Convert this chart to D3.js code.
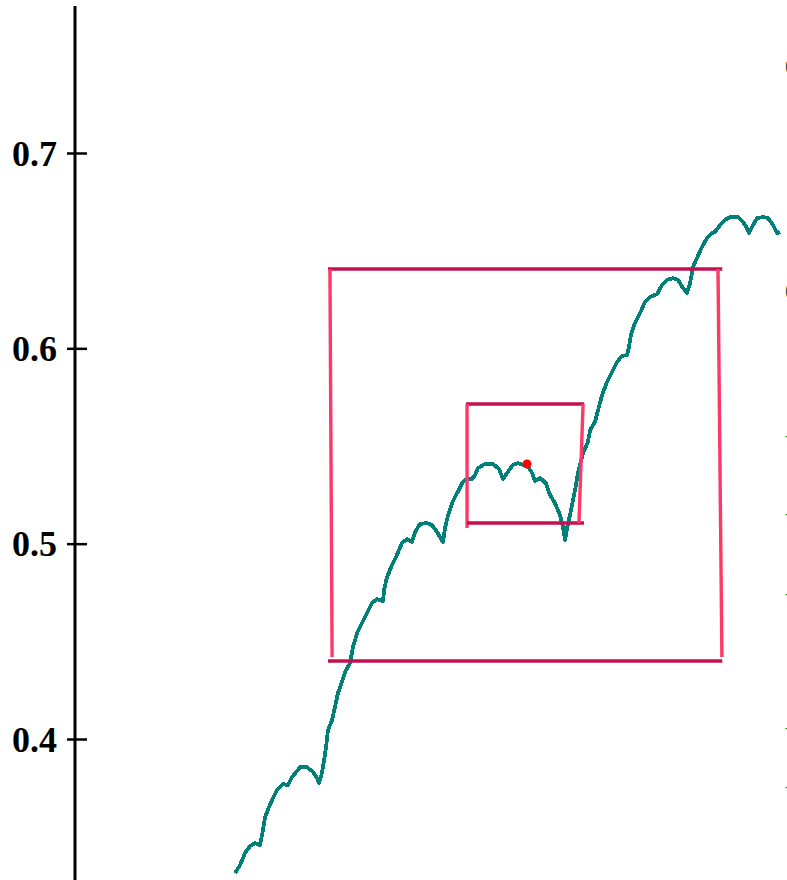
<!DOCTYPE html>
<html>
<head>
<meta charset="utf-8">
<script src="https://cdn.jsdelivr.net/npm/d3@7"></script>
<style>
  html, body { margin: 0; padding: 0; background: #fff; overflow: hidden; }
  svg { display: block; }
</style>
</head>
<body>
<div id="chart"></div>
<script>
// curve samples (x, y)
const curveX = [
  0.3505, 0.3531, 0.3556, 0.3582, 0.3607, 0.3633, 0.3648, 0.3659, 0.3679, 0.3700,
  0.3720, 0.3751, 0.3776, 0.3797, 0.3838, 0.3874, 0.3904, 0.3925, 0.3935, 0.3950,
  0.3961, 0.3971, 0.3981, 0.4002, 0.4017, 0.4032, 0.4053, 0.4068, 0.4094, 0.4109,
  0.4130, 0.4155, 0.4181, 0.4206, 0.4232, 0.4263, 0.4268, 0.4283, 0.4309, 0.4334,
  0.4360, 0.4386, 0.4411, 0.4427, 0.4452, 0.4488, 0.4514, 0.4539, 0.4570, 0.4580,
  0.4596, 0.4616, 0.4642, 0.4672, 0.4693, 0.4718, 0.4734, 0.4749, 0.4785, 0.4826,
  0.4857, 0.4877, 0.4898, 0.4928, 0.4954, 0.4980, 0.5000, 0.5026, 0.5041, 0.5067,
  0.5097, 0.5118, 0.5143, 0.5169, 0.5184, 0.5195, 0.5205, 0.5220, 0.5246, 0.5261,
  0.5287, 0.5312, 0.5323, 0.5348, 0.5364, 0.5384, 0.5410, 0.5435, 0.5461, 0.5486,
  0.5512, 0.5522, 0.5532, 0.5553, 0.5579, 0.5604, 0.5630, 0.5666, 0.5691, 0.5717,
  0.5748, 0.5773, 0.5799, 0.5819, 0.5835, 0.5850, 0.5870, 0.5896, 0.5922, 0.5947,
  0.5963, 0.5988, 0.6014, 0.6039, 0.6080, 0.6106, 0.6126, 0.6137, 0.6152, 0.6178,
  0.6208, 0.6234, 0.6260, 0.6280, 0.6295
];
const curveY = [
  0.3314, 0.3355, 0.3416, 0.3452, 0.3467, 0.3457, 0.3534, 0.3600, 0.3652, 0.3698,
  0.3739, 0.3769, 0.3764, 0.3805, 0.3856, 0.3856, 0.3831, 0.3800, 0.3774, 0.3826,
  0.3892, 0.3959, 0.4046, 0.4097, 0.4164, 0.4235, 0.4292, 0.4343, 0.4389, 0.4471,
  0.4542, 0.4594, 0.4645, 0.4696, 0.4716, 0.4706, 0.4763, 0.4829, 0.4891, 0.4942,
  0.5003, 0.5024, 0.5008, 0.5060, 0.5100, 0.5106, 0.5095, 0.5060, 0.5008, 0.5080,
  0.5147, 0.5208, 0.5259, 0.5316, 0.5331, 0.5331, 0.5351, 0.5387, 0.5408, 0.5408,
  0.5382, 0.5331, 0.5362, 0.5403, 0.5413, 0.5403, 0.5403, 0.5362, 0.5321, 0.5336,
  0.5310, 0.5249, 0.5208, 0.5147, 0.5085, 0.5019, 0.5080, 0.5147, 0.5275, 0.5362,
  0.5464, 0.5520, 0.5582, 0.5623, 0.5684, 0.5761, 0.5828, 0.5879, 0.5930, 0.5961,
  0.5966, 0.6007, 0.6068, 0.6130, 0.6181, 0.6237, 0.6263, 0.6278, 0.6324, 0.6350,
  0.6360, 0.6350, 0.6309, 0.6283, 0.6334, 0.6416, 0.6462, 0.6519, 0.6565, 0.6590,
  0.6596, 0.6631, 0.6657, 0.6672, 0.6672, 0.6647, 0.6616, 0.6590, 0.6621, 0.6667,
  0.6672, 0.6667, 0.6631, 0.6590, 0.6596
];

const point = { x: 0.5, y: 0.5408 };

// box edges: [x1, y1, x2, y2, kind]
const boxEdges = [
  [0.3981, 0.6406, 0.6000, 0.6406, "h"],
  [0.3991, 0.6406, 0.4002, 0.4420, "v"],
  [0.3981, 0.4399, 0.6000, 0.4399, "h"],
  [0.5978, 0.6406, 0.5998, 0.4420, "v"],
  [0.4688, 0.5715, 0.5292, 0.5715, "h"],
  [0.4693, 0.5715, 0.4693, 0.5080, "v"],
  [0.4693, 0.5106, 0.5292, 0.5106, "h"],
  [0.5287, 0.5715, 0.5266, 0.5106, "v"]
];

const yTicks = [0.4, 0.5, 0.6, 0.7];

// labels of the neighbouring panel, cut by the right edge
const sideGray = [0.7450, 0.6299];
const sideGreen = [0.5556, 0.5157, 0.4747, 0.4061, 0.3759];

const width = 787, height = 880;

const svg = d3.select("#chart").append("svg")
  .attr("width", width)
  .attr("height", height);

const y = d3.scaleLinear().domain([0.4, 0.7]).range([739, 153]);
const x = d3.scaleLinear().domain([0.4, 0.6]).range([331.7, 722.3]);

// axis
const axisX = 75;
svg.append("line")
  .attr("x1", axisX).attr("x2", axisX)
  .attr("y1", 6).attr("y2", height)
  .attr("stroke", "#000")
  .attr("stroke-width", 3);

const ax = svg.append("g")
  .attr("transform", `translate(${axisX},0)`)
  .attr("font-family", "'Liberation Serif', 'Times New Roman', serif")
  .call(d3.axisLeft(y).tickValues(yTicks).tickFormat(d3.format(".1f")).tickSize(8).tickPadding(10));
ax.select(".domain").remove();
ax.selectAll(".tick line")
  .attr("x1", 12).attr("x2", -8)
  .attr("stroke", "#000")
  .attr("stroke-width", 2.5);
ax.selectAll(".tick text")
  .style("font-family", "'Liberation Serif', 'Times New Roman', serif")
  .style("font-size", "36px")
  .style("font-weight", "bold")
  .attr("fill", "#000")
  .attr("dy", "0.34em");

// curve
const line = d3.line().x(d => x(d[0])).y(d => y(d[1]));
svg.append("path")
  .datum(curveX.map((v, i) => [v, curveY[i]]))
  .attr("d", line)
  .attr("fill", "none")
  .attr("stroke", "#008078")
  .attr("stroke-width", 3.8)
  .attr("stroke-linejoin", "round")
  .attr("shape-rendering", "crispEdges");

// boxes
svg.append("g").selectAll("line")
  .data(boxEdges)
  .join("line")
  .attr("x1", d => x(d[0])).attr("y1", d => y(d[1]))
  .attr("x2", d => x(d[2])).attr("y2", d => y(d[3]))
  .attr("stroke", d => d[4] === "h" ? "#c4104f" : "#ff3868")
  .attr("stroke-width", 3.4);

// highlighted point
svg.append("circle")
  .attr("cx", x(point.x))
  .attr("cy", y(point.y))
  .attr("r", 4.5)
  .attr("fill", "#ff0000");

svg.append("g").selectAll("text")
  .data(sideGray)
  .join("text")
  .attr("x", 785)
  .attr("y", d => y(d))
  .attr("dy", "0.36em")
  .style("font-family", "'Liberation Serif', serif")
  .style("font-size", "24px")
  .attr("fill", "#444")
  .text("0");
svg.append("g").selectAll("text")
  .data(sideGreen)
  .join("text")
  .attr("x", 785)
  .attr("y", d => y(d))
  .attr("dy", "0.36em")
  .style("font-family", "'Liberation Serif', serif")
  .style("font-size", "14px")
  .attr("fill", "#1a6b2a")
  .text("-");
</script>
</body>
</html>
